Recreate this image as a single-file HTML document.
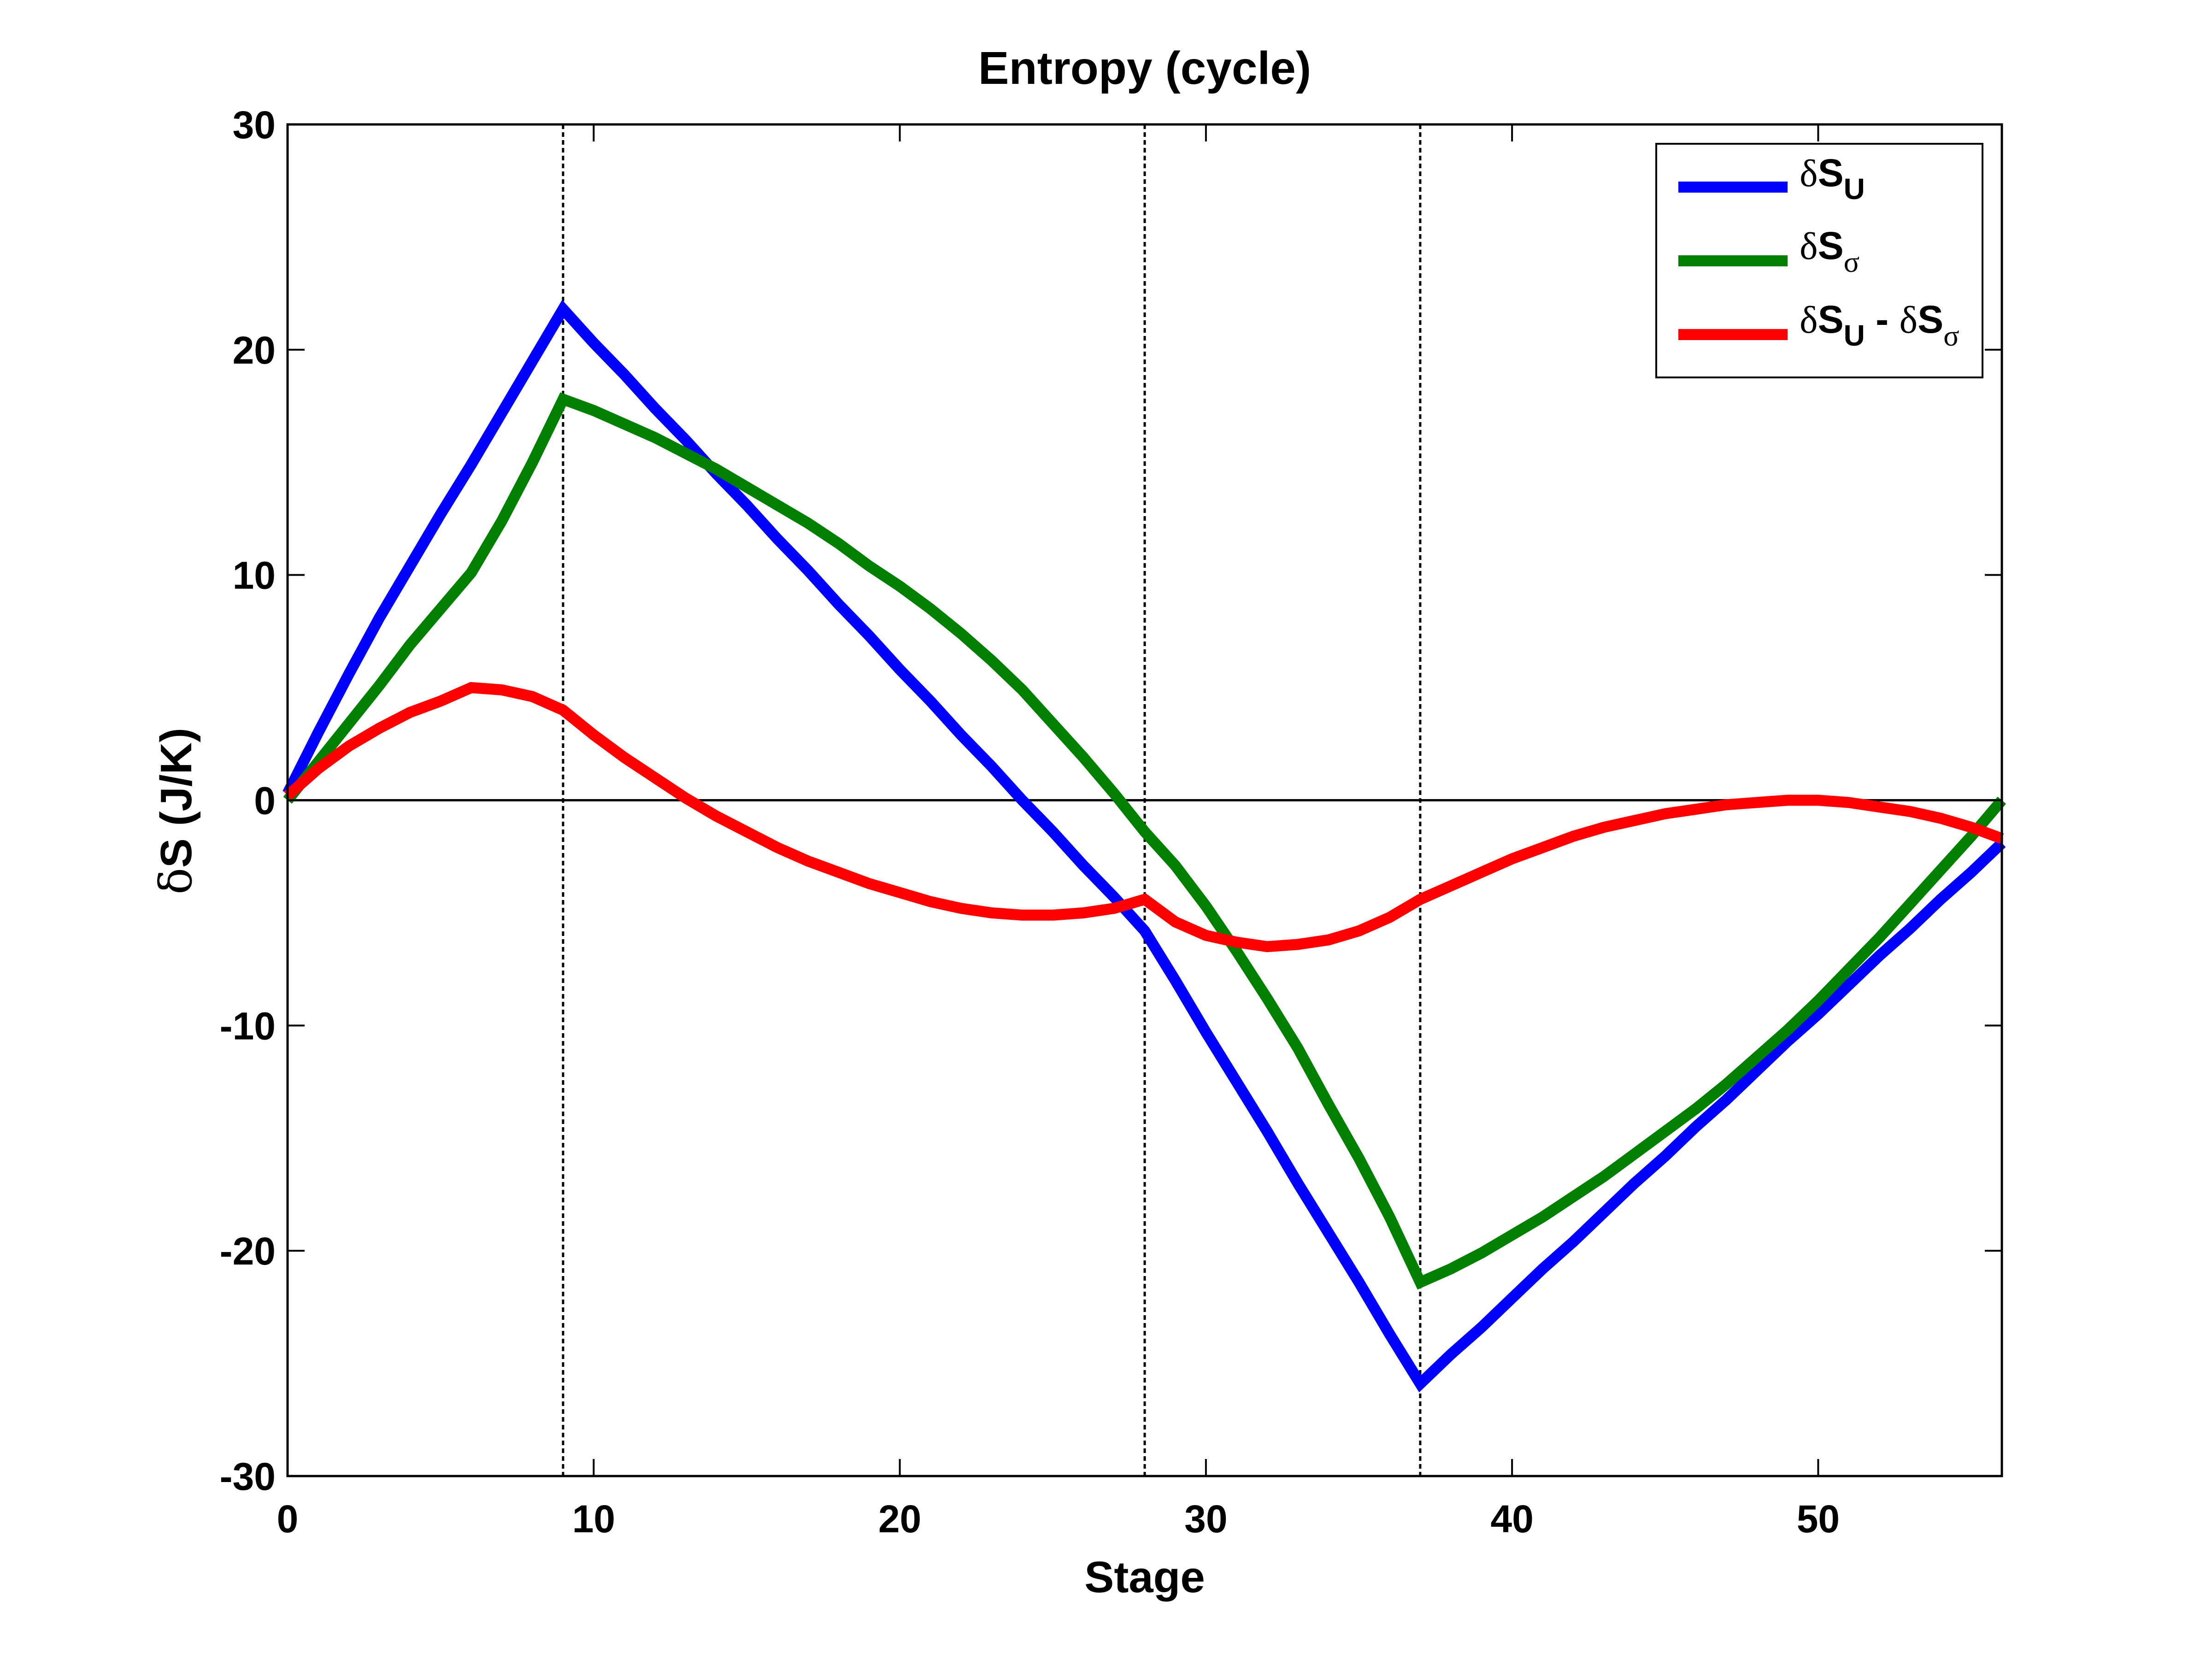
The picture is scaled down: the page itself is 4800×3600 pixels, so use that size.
<!DOCTYPE html>
<html><head><meta charset="utf-8"><style>
html,body{margin:0;padding:0;background:#fff;}
svg{display:block;}
text{font-family:"Liberation Sans",Arial,sans-serif;font-weight:bold;fill:#000;}
</style></head>
<body>
<svg id="chart" width="4800" height="3600" viewBox="0 0 4800 3600" xmlns="http://www.w3.org/2000/svg">
<rect width="4800" height="3600" fill="#fff"/>
<text x="2484" y="182" font-size="100" text-anchor="middle">Entropy (cycle)</text>
<g id="grid"></g>
<g id="series"></g>
<g id="axes"></g>
<text x="2484" y="3455" font-size="96" text-anchor="middle">Stage</text>
<text transform="translate(415,1760) rotate(-90)" font-size="96" text-anchor="middle"><tspan font-family="'DejaVu Serif',serif" font-weight="normal">δ</tspan>S (J/K)</text>
<g>
<rect x="3594" y="312" width="708" height="507" fill="#fff" stroke="#000" stroke-width="4"/>
<line x1="3642" y1="406" x2="3879" y2="406" stroke="#0000ff" stroke-width="24"/>
<line x1="3642" y1="566" x2="3879" y2="566" stroke="#007f00" stroke-width="24"/>
<line x1="3642" y1="726" x2="3879" y2="726" stroke="#ff0000" stroke-width="24"/>
<text x="3905" y="404" font-size="84"><tspan font-family="'Liberation Serif',serif" font-weight="normal">δ</tspan>S<tspan font-size="64" dy="28">U</tspan></text>
<text x="3905" y="562" font-size="84"><tspan font-family="'Liberation Serif',serif" font-weight="normal">δ</tspan>S<tspan font-size="64" dy="28" font-family="'Liberation Serif',serif" font-weight="normal">σ</tspan></text>
<text x="3905" y="722" font-size="84"><tspan font-family="'Liberation Serif',serif" font-weight="normal">δ</tspan>S<tspan font-size="64" dy="28">U</tspan><tspan dy="-28"> - </tspan><tspan font-family="'Liberation Serif',serif" font-weight="normal">δ</tspan>S<tspan font-size="64" dy="28" font-family="'Liberation Serif',serif" font-weight="normal">σ</tspan></text>
</g>
</svg>
<script>
const stages = [0,1,2,3,4,5,6,7,8,9,10,11,12,13,14,15,16,17,18,19,20,21,22,23,24,25,26,27,28,29,30,31,32,33,34,35,36,37,38,39,40,41,42,43,44,45,46,47,48,49,50,51,52,53,54,55,56];
const dSU = [0.3,3.0,5.6,8.1,10.4,12.7,14.9,17.2,19.5,21.8,20.3,18.9,17.4,16.0,14.5,13.1,11.6,10.2,8.7,7.3,5.8,4.4,2.9,1.5,0.0,-1.4,-2.9,-4.3,-5.8,-8.0,-10.3,-12.5,-14.7,-17.0,-19.2,-21.4,-23.7,-25.9,-24.6,-23.4,-22.1,-20.8,-19.6,-18.3,-17.0,-15.8,-14.5,-13.3,-12.0,-10.7,-9.5,-8.2,-6.9,-5.7,-4.4,-3.2,-1.9];
const dSsigma = [0.0,1.7,3.4,5.1,6.9,8.5,10.1,12.4,15.0,17.8,17.3,16.7,16.1,15.4,14.7,13.9,13.1,12.3,11.4,10.4,9.5,8.5,7.4,6.2,4.9,3.4,1.9,0.3,-1.4,-2.9,-4.7,-6.7,-8.8,-11.0,-13.5,-15.9,-18.5,-21.4,-20.8,-20.1,-19.3,-18.5,-17.6,-16.7,-15.7,-14.7,-13.7,-12.6,-11.4,-10.2,-8.9,-7.5,-6.1,-4.6,-3.1,-1.6,0.0];
const dSdiff = [0.2,1.4,2.4,3.2,3.9,4.4,5.0,4.9,4.6,4.0,2.9,1.9,1.0,0.1,-0.7,-1.4,-2.1,-2.7,-3.2,-3.7,-4.1,-4.5,-4.8,-5.0,-5.1,-5.1,-5.0,-4.8,-4.4,-5.4,-6.0,-6.3,-6.5,-6.4,-6.2,-5.8,-5.2,-4.4,-3.8,-3.2,-2.6,-2.1,-1.6,-1.2,-0.9,-0.6,-0.4,-0.2,-0.1,0.0,0.0,-0.1,-0.3,-0.5,-0.8,-1.2,-1.7];
const xTicks = [0,10,20,30,40,50];
const yTicks = [-30,-20,-10,0,10,20,30];
const phaseMarks = [9,28,37];

const L=624,R=4344,T=270,B=3203,XMIN=0,XMAX=56,YMIN=-30,YMAX=30;
function sx(v){return L+(v-XMIN)/(XMAX-XMIN)*(R-L);}
function sy(v){return B-(v-YMIN)/(YMAX-YMIN)*(B-T);}
const NS='http://www.w3.org/2000/svg';
function mk(tag,attrs,parent){const e=document.createElementNS(NS,tag);for(const k in attrs)e.setAttribute(k,attrs[k]);parent.appendChild(e);return e;}
const grid=document.getElementById('grid'),series=document.getElementById('series'),axes=document.getElementById('axes');

let z=mk('line',{x1:sx(XMIN),x2:sx(XMAX),y1:sy(0),y2:sy(0),stroke:'#000','stroke-width':5},grid);


phaseMarks.forEach(p=>{
  const l=mk('line',{x1:sx(p),x2:sx(p),y1:T,y2:B,stroke:'#000','stroke-width':5,'stroke-dasharray':'10,7'},grid);
  
  
});
function drawSeries(vals,color,name){
  const d=vals.map((v,i)=>(i?'L':'M')+sx(stages[i]).toFixed(1)+','+sy(v).toFixed(1)).join(' ');
  const p=mk('path',{d:d,fill:'none',stroke:color,'stroke-width':24,'stroke-linejoin':'miter','stroke-miterlimit':4},series);
  
  
}
drawSeries(dSU,'#0000ff','series-dsu');
drawSeries(dSsigma,'#007f00','series-dssigma');
drawSeries(dSdiff,'#ff0000','series-dsu-minus-dssigma');

const fr=mk('rect',{x:L,y:T,width:R-L,height:B-T,fill:'none',stroke:'#000','stroke-width':5},axes);


xTicks.forEach(t=>{
  const x=sx(t);
  const a=mk('line',{x1:x,x2:x,y1:B,y2:B-37,stroke:'#000','stroke-width':4},axes);
  
  
  const b=mk('line',{x1:x,x2:x,y1:T,y2:T+37,stroke:'#000','stroke-width':4},axes);
  
  
  const tx=mk('text',{x:x,y:3325,'font-size':84,'text-anchor':'middle'},axes);
  tx.textContent=t;
  
  
});
yTicks.forEach(t=>{
  const y=sy(t);
  const a=mk('line',{x1:L,x2:L+37,y1:y,y2:y,stroke:'#000','stroke-width':4},axes);
  
  
  const b=mk('line',{x1:R,x2:R-37,y1:y,y2:y,stroke:'#000','stroke-width':4},axes);
  
  
  const tx=mk('text',{x:598,y:y+30,'font-size':84,'text-anchor':'end'},axes);
  tx.textContent=t;
  
  
});
</script>
</body></html>
